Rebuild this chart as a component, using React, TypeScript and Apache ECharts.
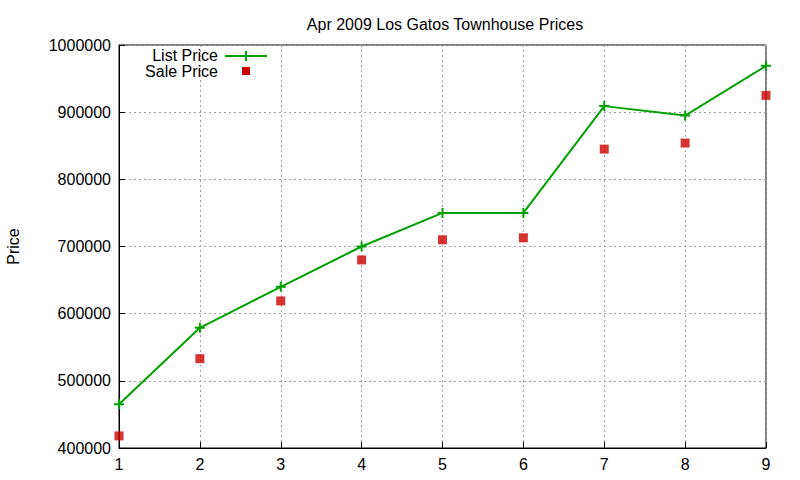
import React, { useEffect, useRef } from "react";
import * as echarts from "echarts";

const months = [1, 2, 3, 4, 5, 6, 7, 8, 9];
const listPrice = [465000, 579000, 640000, 700000, 750000, 750000, 909000, 895000, 969000];
const salePrice = [418000, 533000, 619000, 680000, 710000, 713000, 845000, 854000, 925000];
const yTicks = [400000, 500000, 600000, 700000, 800000, 900000, 1000000];

const GREEN = "#00a000";
const RED = "#cc0000";
const FONT = "Liberation Sans";
const PLUS = "path://M4,0H6V4H10V6H6V10H4V6H0V4H4Z";

export default function App() {
  const ref = useRef<HTMLDivElement>(null);
  useEffect(() => {
    const chart = echarts.init(ref.current!, null, { renderer: "svg" });
    chart.setOption({
      animation: false,
      backgroundColor: "#ffffff",
      textStyle: { fontFamily: FONT },
      title: {
        text: "Apr 2009 Los Gatos Townhouse Prices",
        left: 440,
        top: 11,
        textAlign: "center",
        textStyle: { fontFamily: FONT, fontSize: 16, fontWeight: "normal", color: "#000" },
      },
      grid: {
        left: 119,
        right: 34,
        top: 45,
        bottom: 32,
        containLabel: false,
        outerBoundsMode: "none",
        show: true,
        borderColor: "#000",
        borderWidth: 1,
      },
      xAxis: {
        type: "value",
        min: 1,
        max: 9,
        interval: 1,
        axisLine: { show: true, lineStyle: { color: "#000" } },
        axisTick: { show: true, inside: true, length: 6, lineStyle: { color: "#000" } },
        axisLabel: { color: "#000", fontSize: 16, fontFamily: FONT, margin: 8 },
        splitLine: { show: true, lineStyle: { color: "#a0a0a0", type: [2, 3], width: 1 } },
      },
      yAxis: {
        type: "value",
        min: yTicks[0],
        max: yTicks[yTicks.length - 1],
        interval: 100000,
        name: "Price",
        nameLocation: "middle",
        nameRotate: 90,
        nameGap: 98,
        nameTextStyle: { color: "#000", fontSize: 16, fontFamily: FONT },
        axisLine: { show: true, lineStyle: { color: "#000" } },
        axisTick: { show: true, inside: true, length: 6, lineStyle: { color: "#000" } },
        axisLabel: {
          color: "#000",
          fontSize: 16,
          fontFamily: FONT,
          margin: 8,
          formatter: (v: number) => String(v),
        },
        splitLine: { show: true, lineStyle: { color: "#a0a0a0", type: [2, 3], width: 1 } },
      },
      series: [
        {
          name: "List Price",
          type: "line",
          data: months.map((m, i) => [m, listPrice[i]]),
          symbol: PLUS,
          symbolSize: 10,
          showSymbol: true,
          lineStyle: { color: GREEN, width: 2 },
          itemStyle: { color: GREEN },
          z: 3,
        },
        {
          name: "Sale Price",
          type: "scatter",
          data: months.map((m, i) => [m, salePrice[i]]),
          symbol: "rect",
          symbolSize: 9,
          itemStyle: { color: RED },
          z: 4,
        },
      ],
      graphic: [
        {
          type: "text",
          x: 218,
          y: 55.5,
          style: {
            text: "List Price",
            fontSize: 16,
            fontFamily: FONT,
            fill: "#000",
            textAlign: "right",
            textVerticalAlign: "middle",
          },
        },
        {
          type: "line",
          shape: { x1: 225, y1: 56, x2: 267, y2: 56 },
          style: { stroke: GREEN, lineWidth: 2 },
        },
        {
          type: "line",
          shape: { x1: 246, y1: 51, x2: 246, y2: 61 },
          style: { stroke: GREEN, lineWidth: 2 },
        },
        {
          type: "text",
          x: 218,
          y: 71.5,
          style: {
            text: "Sale Price",
            fontSize: 16,
            fontFamily: FONT,
            fill: "#000",
            textAlign: "right",
            textVerticalAlign: "middle",
          },
        },
        {
          type: "rect",
          shape: { x: 242, y: 67, width: 8, height: 8 },
          style: { fill: RED },
        },
      ],
    });
    return () => chart.dispose();
  }, []);
  return <div ref={ref} style={{ width: 800, height: 480, position: "absolute", left: 0, top: 0 }} />;
}
